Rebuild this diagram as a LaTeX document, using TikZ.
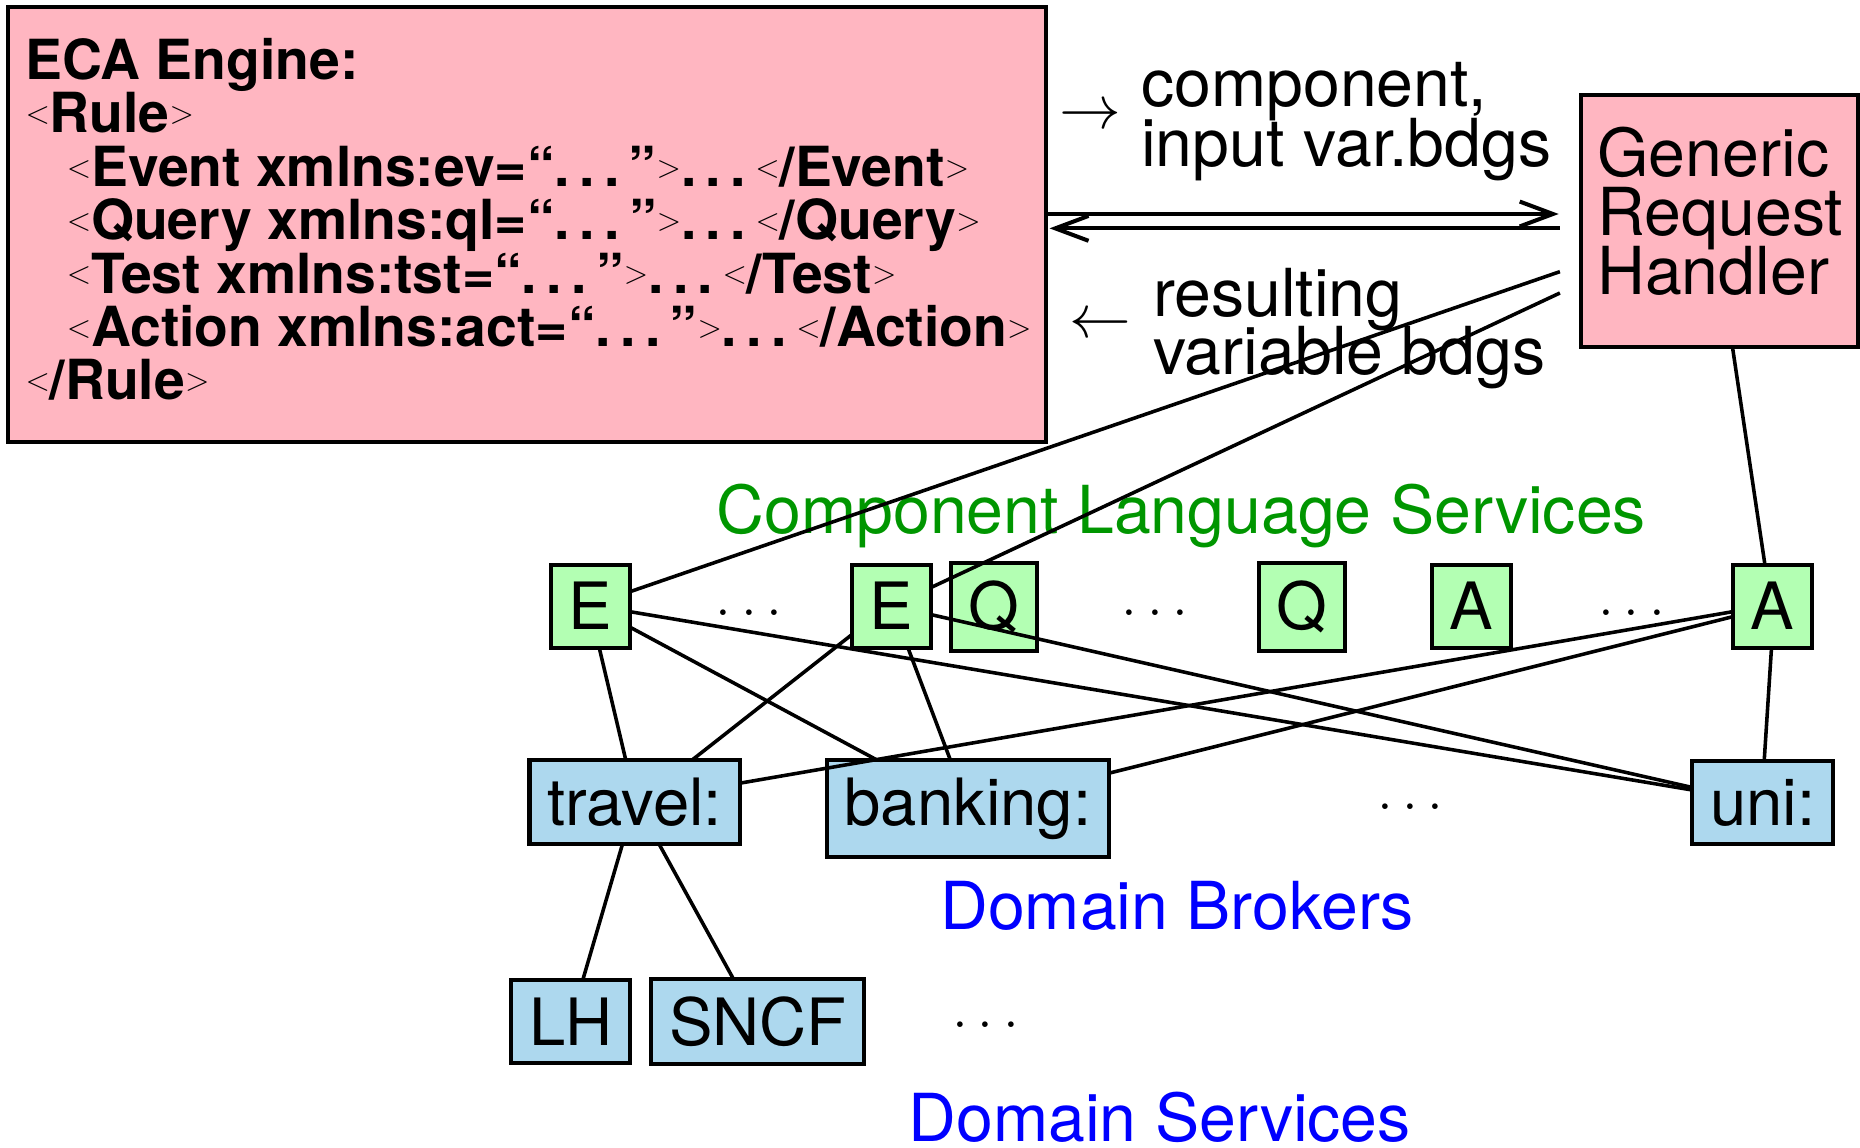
\RequirePackage{fix-cm}
\documentclass[tikz,border=0pt]{standalone}
\usepackage[no-math]{fontspec}
\setmainfont{TeX Gyre Heros}
\usetikzlibrary{arrows.meta}

\definecolor{pinkfill}{RGB}{255,182,193}
\definecolor{greenfill}{RGB}{179,255,179}
\definecolor{bluefill}{RGB}{173,216,238}
\definecolor{labelgreen}{RGB}{0,150,0}
\definecolor{labelblue}{RGB}{0,0,255}

% small tag brackets and spaced dots of the rule listing
\newcommand{\xlt}{\raisebox{7.75pt}{\fontsize{27}{27}\selectfont$<$}}
\newcommand{\xgt}{\raisebox{7.75pt}{\fontsize{27}{27}\selectfont$>$}}
\newcommand{\bdots}{.\kern.17em.\kern.17em.\kern.17em}

\begin{document}
\begin{tikzpicture}[x=1pt,y=-1pt,
  every node/.style={inner sep=0pt, outer sep=0pt},
  txt/.style={anchor=base west, font=\fontsize{55.8}{55.8}\selectfont},
  ecaline/.style={anchor=base west, font=\fontsize{46.6}{46.6}\selectfont\bfseries},
  pinkbox/.style={draw, line width=3.4pt, fill=pinkfill},
  gbox/.style={draw, line width=3.4pt, fill=greenfill, inner sep=15pt, anchor=base,
               font=\fontsize{55}{55}\selectfont},
  bbox/.style={gbox, fill=bluefill},
  conn/.style={line width=3pt},
  dbl/.style={line width=3.4pt},
  dotsnode/.style={font=\fontsize{49}{49}\selectfont},
  mathsym/.style={font=\fontsize{52}{52}\selectfont},
  barb/.style={-{Straight Barb[length=28pt,width=21pt]}},
]
\useasboundingbox (0,0) rectangle (1568,967);

% ECA engine with its rule listing
\node[pinkbox, minimum width=874.8pt, minimum height=366.8pt] (ECA) at (444.4,189) {};
\node[ecaline] (eca1) at (21.5,67)  {ECA Engine:};
\node[ecaline] (eca2) at (21.5,112) {\xlt Rule\xgt};
\node[ecaline] (eca3) at (56.3,157) {\xlt Event xmlns:ev=“\bdots”\xgt\bdots\xlt/Event\xgt};
\node[ecaline] (eca4) at (56.3,202) {\xlt Query xmlns:ql=“\bdots”\xgt\bdots\xlt/Query\xgt};
\node[ecaline] (eca5) at (56.3,247) {\xlt Test xmlns:tst=“\bdots”\xgt\bdots\xlt/Test\xgt};
\node[ecaline] (eca6) at (56.3,292) {\xlt Action xmlns:act=“\bdots”\xgt\bdots\xlt/Action\xgt};
\node[ecaline] (eca7) at (21.5,337) {\xlt/Rule\xgt};

% generic request handler
\node[pinkbox, minimum width=233.5pt, minimum height=212.3pt] (GRH) at (1449.3,186.2) {};
\node[txt] (grh1) at (1346.6,149)   {Generic};
\node[txt] (grh2) at (1346.6,198.5) {Request};
\node[txt] (grh3) at (1346.6,248)   {Handler};

% message labels
\node[mathsym] (toarrow) at (919.3,98.9) {$\rightarrow$};
\node[txt] (lab1) at (962,89.9)  {component,};
\node[txt] (lab2) at (962,140.5) {input var.bdgs};
\node[mathsym] (backarrow) at (928,274.8) {$\leftarrow$};
\node[txt] (lab3) at (972,267)   {resulting};
\node[txt] (lab4) at (972,316.1) {variable bdgs};

% layer titles
\node[txt, text=labelgreen] (cls) at (604,449.5) {Component Language Services};
\node[txt, text=labelblue] (db) at (792.7,783.8) {Domain Brokers};
\node[txt, text=labelblue] (ds) at (766,962.5) {Domain Services};

% component language services
\node[gbox] (E1) at (497.7,531)  {E};
\node[gbox] (E2) at (751.2,531)  {E};
\node[gbox] (Q1) at (838,531)    {Q};
\node[gbox] (Q2) at (1097.5,531) {Q};
\node[gbox] (A1) at (1240.5,531) {A};
\node[gbox] (A2) at (1494,531)   {A};

% domain brokers and services
\node[bbox] (travel)  at (535,695.5)  {travel:};
\node[bbox] (banking) at (816,695.5)  {banking:};
\node[bbox] (uni)     at (1486,695.5) {uni:};
\node[bbox] (LH)      at (481.3,881)  {LH};
\node[bbox] (SNCF)    at (638.9,881)  {SNCF};

% ellipses
\node[dotsnode] (d1) at (631.7,516.5) {$\ldots$};
\node[dotsnode] (d2) at (974,516.5)   {$\ldots$};
\node[dotsnode] (d3) at (1375.5,516.5){$\ldots$};
\node[dotsnode] (d4) at (1189,680)    {$\ldots$};
\node[dotsnode] (d5) at (831,864)     {$\ldots$};

% free ends next to the request handler
\coordinate (toGRH)   at (1314,180.4);
\coordinate (fromGRH) at (1315,192.5);
\coordinate (gE1)     at (1315,229);
\coordinate (gE2)     at (1315,247);

% request / answer arrows
\draw[dbl, barb] (ECA.east |- toGRH) -- (toGRH);
\draw[dbl, barb] (fromGRH) -- ([xshift=3pt]ECA.east |- fromGRH);

% connectors
\draw[conn] (gE1) -- (E1.20);
\draw[conn] (gE2) -- (E2.25);
\draw[conn] (GRH.-84) -- (A2.100);
\draw[conn] (E1.-8) -- (uni.170);
\draw[conn] (E1.-28) -- (banking.152);
\draw[conn] (E1.-78) -- (travel.102);
\draw[conn] (E2.216) -- (travel.36);
\draw[conn] (E2.-68) -- (banking.110);
\draw[conn] (E2.-12) -- (uni.168);
\draw[conn] (A2.188) -- (travel.10);
\draw[conn] (A2.195) -- (banking.14);
\draw[conn] (A2.-91) -- (uni.88);
\draw[conn] (travel.-106) -- (LH.74);
\draw[conn] (travel.-60) -- (SNCF.120);
\end{tikzpicture}
\end{document}
